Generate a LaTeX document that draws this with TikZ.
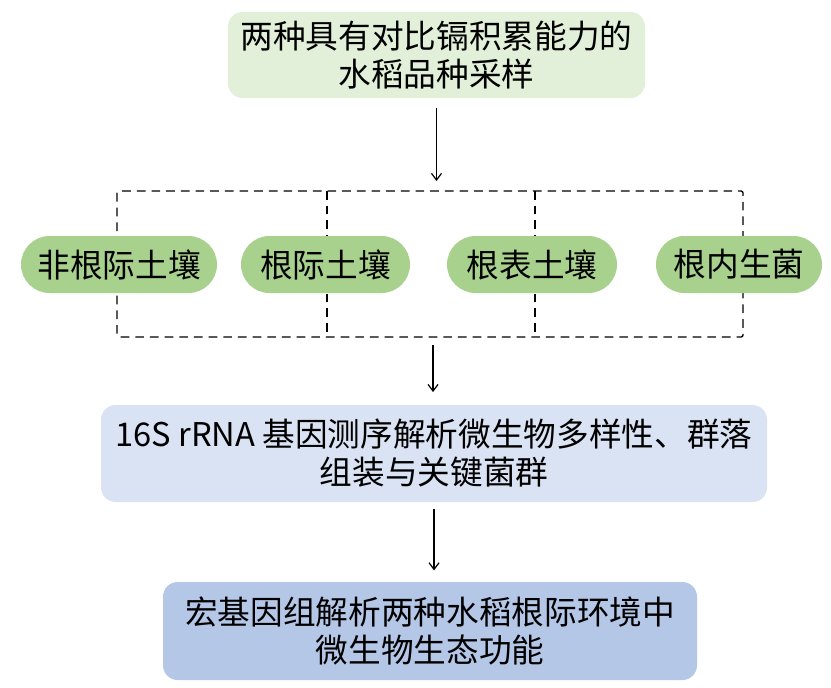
\documentclass[tikz,border=0pt]{standalone}
\usepackage{fontspec}
\setmainfont{Noto Sans CJK SC}
\usetikzlibrary{shapes.misc, arrows.meta}

\definecolor{startgreen}{HTML}{E2EFD9}
\definecolor{soilgreen}{HTML}{A9D18E}
\definecolor{seqblue}{HTML}{DAE3F3}
\definecolor{metablue}{HTML}{B4C7E7}

\tikzset{
    stagebox/.style = {rounded corners = 11pt, align = center, inner sep = 0pt,
        font = \fontsize{24.5}{28.5}\selectfont},
    sitepill/.style = {rounded rectangle, fill = soilgreen, minimum height = 42.75pt,
        inner sep = 0pt, font = \fontsize{24.5}{28.5}\selectfont},
    groupframe/.style = {dash pattern = on 6.5pt off 4.5pt, line width = 1pt, rounded corners = 1.5pt},
    flow/.style = {-{Straight Barb[length = 5pt, width = 7.5pt]}, line width = 0.9pt}
}

\begin{document}
\begin{tikzpicture}[x = 0.75pt, y = -0.75pt]
            \path[fill = white, use as bounding box] (0, 0) rectangle (831, 687);

            % sampling
            \node[stagebox, fill = startgreen, minimum width = 312.75pt, minimum height = 64.5pt]
                (sampling) at (436.5, 55) {两种具有对比镉积累能力的\\水稻品种采样};

            % four compartments
            \coordinate (frametop) at (436.5, 191);
            \coordinate (framebot) at (433, 337);
            \draw[groupframe] (117, 191) rectangle (743, 337);
            \draw[groupframe] (327, 191) -- (327, 337);
            \draw[groupframe] (535, 191) -- (535, 337);
            \node[sitepill, minimum width = 147pt] (bulk) at (119, 264.5) {非根际土壤};
            \node[sitepill, minimum width = 126.75pt] (rhizo) at (325.5, 264.5) {根际土壤};
            \node[sitepill, minimum width = 127.5pt] (plane) at (532, 264.5) {根表土壤};
            \node[sitepill, minimum width = 124.5pt] (endo) at (739, 264.5) {根内生菌};

            % 16S
            \node[stagebox, fill = seqblue, minimum width = 499.5pt, minimum height = 72.75pt]
                (amplicon) at (434, 453.5) {16S rRNA 基因测序解析微生物多样性、群落\\组装与关键菌群};

            % metagenome
            \node[stagebox, fill = metablue, minimum width = 400.5pt, minimum height = 73.5pt]
                (metagenome) at (430, 631) {宏基因组解析两种水稻根际环境中\\微生物生态功能};

            \draw[flow, shorten <= 7.5pt, shorten >= 7.5pt] (sampling) -- (frametop);
            \draw[flow, shorten <= 6pt, shorten >= 9.5pt] (framebot) -- (framebot |- amplicon.north);
            \draw[flow, shorten <= 5pt, shorten >= 8.5pt] (amplicon) -- (amplicon |- metagenome.north);
        \end{tikzpicture}
\end{document}
